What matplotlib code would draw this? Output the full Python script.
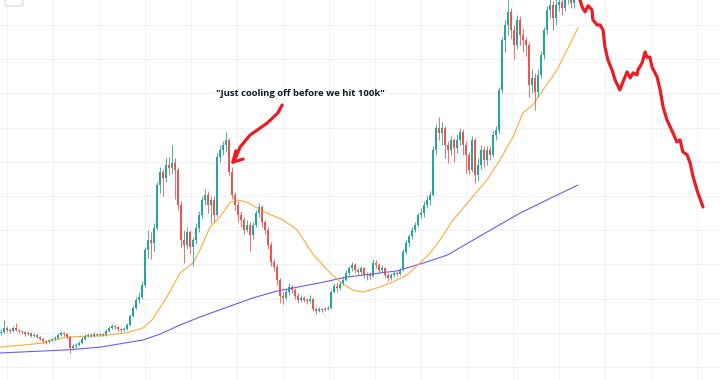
import matplotlib
matplotlib.use("Agg")
import matplotlib.pyplot as plt
import numpy as np
from matplotlib.patches import FancyBboxPatch

# weekly candles, prices in thousands of USD
closes = [
    10.2, 11.4, 10.8, 10.5, 11.4, 10.8, 10.5, 10.2, 9.6, 9.9,
    9.1, 9.4, 8.8, 8.2, 7.6, 7.3, 7.9, 8.2, 8.5, 9.4,
    9.9, 9.6, 8.8, 5.6, 6.1, 6.4, 7.0, 8.2, 9.1, 9.4,
    9.1, 9.6, 9.4, 9.6, 9.4, 10.5, 11.4, 12.0, 11.7, 11.1,
    10.8, 11.1, 12.3, 14.9, 17.3, 19.6, 20.5, 24.0, 34.2, 37.1,
    36.3, 40.6, 53.2, 57.0, 55.3, 59.1, 58.2, 59.6, 57.6, 47.4,
    37.1, 35.7, 39.5, 35.1, 37.1, 40.6, 44.4, 48.8, 50.3, 47.4,
    48.8, 44.4, 61.4, 63.5, 64.9, 66.4, 57.0, 50.3, 47.4, 44.4,
    43.0, 40.1, 41.5, 38.6, 41.5, 45.0, 46.8, 42.4, 40.1, 35.7,
    30.7, 29.2, 25.4, 20.8, 20.2, 21.9, 23.4, 22.5, 20.8, 19.6,
    20.2, 19.6, 19.3, 19.9, 17.0, 16.4, 17.0, 16.7, 17.0, 17.3,
    21.9, 23.7, 23.1, 24.3, 25.4, 27.5, 28.9, 29.8, 28.4, 27.8,
    28.9, 26.9, 27.2, 26.6, 30.4, 29.8, 28.4, 28.9, 26.9, 26.0,
    26.9, 27.5, 27.2, 28.4, 33.6, 36.3, 38.3, 40.1, 41.5, 44.4,
    45.0, 47.4, 48.8, 50.3, 63.5, 69.9, 68.4, 69.9, 64.9, 63.5,
    66.4, 64.0, 66.4, 68.7, 64.9, 62.0, 57.6, 66.4, 56.1, 59.1,
    63.5, 60.5, 63.5, 62.0, 67.8, 69.3, 81.0, 95.6, 100.0, 103.8,
    98.5, 94.2, 101.5, 97.1, 95.6, 94.2, 82.5, 84.5, 80.4, 85.4,
    91.2, 98.5, 104.4, 105.8, 102.0, 105.8, 106.7, 105.0, 107.5, 109.0,
    106.4, 108.0,
]
highs = [
    11.0, 13.7, 12.0, 11.3, 12.0, 12.9, 11.2, 10.9, 10.5, 10.4,
    10.2, 9.9, 9.7, 9.1, 8.5, 7.9, 8.3, 8.6, 9.0, 9.9,
    10.5, 10.2, 9.9, 9.0, 6.8, 7.1, 7.6, 8.7, 9.7, 10.0,
    9.9, 10.1, 10.0, 10.0, 9.9, 11.0, 12.0, 12.5, 12.4, 12.0,
    11.4, 11.6, 13.0, 15.5, 18.2, 20.4, 21.8, 25.0, 35.0, 40.0,
    39.5, 42.0, 54.0, 58.5, 58.0, 61.0, 61.5, 64.9, 61.0, 58.5,
    48.5, 40.0, 41.0, 40.0, 38.0, 42.0, 45.5, 50.0, 52.0, 51.5,
    50.0, 50.0, 62.5, 65.0, 66.0, 68.7, 67.0, 58.5, 51.2, 48.5,
    45.5, 44.0, 43.0, 42.5, 42.5, 46.0, 48.0, 47.5, 43.0, 41.0,
    36.5, 31.5, 30.0, 26.0, 21.8, 22.8, 24.5, 24.0, 23.0, 21.5,
    21.0, 20.8, 20.3, 21.0, 20.3, 17.5, 17.4, 17.3, 17.5, 17.8,
    22.6, 24.5, 24.8, 25.0, 26.5, 28.5, 29.5, 30.8, 30.5, 29.0,
    29.5, 29.3, 27.9, 27.8, 31.5, 31.2, 30.3, 29.8, 29.3, 27.5,
    27.5, 28.2, 28.0, 29.0, 34.5, 37.0, 39.0, 41.0, 42.5, 45.0,
    46.5, 48.5, 50.0, 51.5, 64.5, 71.0, 73.1, 71.5, 70.5, 66.0,
    67.5, 67.0, 68.0, 70.0, 69.5, 66.0, 63.0, 67.5, 67.0, 61.0,
    65.0, 64.5, 64.5, 64.5, 69.0, 70.5, 82.0, 96.5, 101.5, 108.0,
    105.0, 100.0, 103.0, 102.5, 99.0, 96.5, 95.0, 87.0, 86.0, 87.0,
    92.5, 99.5, 105.5, 108.0, 107.0, 108.0, 110.0, 109.0, 110.0, 111.0,
    110.0, 110.0,
]
lows = [
    9.5, 10.0, 10.3, 10.0, 10.2, 10.4, 10.0, 9.7, 9.2, 9.3,
    8.7, 8.8, 8.4, 7.8, 7.1, 6.8, 7.0, 7.6, 7.9, 8.3,
    9.1, 9.2, 8.3, 4.1, 5.0, 5.7, 6.0, 6.7, 7.9, 8.8,
    8.7, 8.9, 9.0, 9.1, 9.0, 9.2, 10.2, 11.1, 11.2, 10.6,
    10.3, 10.5, 10.9, 12.0, 14.5, 17.0, 18.8, 20.0, 23.5, 32.0,
    31.5, 34.0, 40.0, 51.0, 50.0, 54.0, 56.0, 56.5, 49.0, 46.0,
    35.0, 30.4, 34.5, 33.0, 29.5, 36.0, 39.5, 43.5, 47.5, 45.0,
    42.0, 42.5, 44.0, 60.0, 62.0, 63.0, 56.0, 49.0, 46.0, 42.5,
    41.0, 39.0, 39.5, 34.0, 37.5, 41.0, 44.0, 41.0, 39.0, 34.5,
    29.5, 28.0, 24.0, 18.7, 18.5, 19.8, 21.0, 21.5, 20.0, 18.8,
    19.0, 18.9, 18.5, 18.7, 16.3, 15.5, 16.0, 16.2, 16.4, 16.6,
    17.0, 21.5, 22.0, 22.5, 24.0, 25.0, 27.0, 28.0, 27.5, 26.8,
    27.2, 26.0, 25.5, 25.8, 26.3, 29.0, 27.5, 27.8, 26.0, 25.0,
    25.5, 26.3, 26.5, 26.8, 28.0, 33.0, 35.5, 37.5, 39.5, 41.0,
    43.5, 44.0, 46.5, 47.5, 50.0, 62.0, 66.5, 65.0, 61.0, 59.5,
    62.0, 60.0, 62.5, 65.0, 62.0, 56.7, 56.5, 57.0, 53.8, 54.5,
    58.0, 58.5, 59.0, 60.5, 61.5, 66.5, 68.5, 80.0, 92.0, 97.0,
    96.0, 90.0, 93.0, 94.0, 92.0, 91.0, 79.0, 80.0, 75.1, 79.0,
    84.5, 90.0, 97.0, 102.0, 98.5, 100.0, 104.0, 103.0, 104.0, 106.0,
    105.0, 105.0,
]
first_open = 10.0

# moving averages (candle index, price)
ma50_x = [-0.3, 14, 22, 33, 42, 47.3, 50.3, 55.3, 59.7, 64, 66.3, 69.7, 73, 76.3,
          79, 82, 85.3, 88.7, 94, 98.7, 104, 108.7, 113, 117.3, 120.7, 126.3,
          130.7, 135.3, 139.7, 143, 146.3, 150.7, 156.3, 162, 166.3, 170.7,
          174, 177.3, 180.7, 185.3, 188.7, 192.3]
ma50_y = [5.8, 7.0, 8.8, 9.1, 10.0, 11.4, 13.7, 20.5, 27.5, 30.4, 34.2, 40.9, 43.9,
          48.0, 48.8, 48.2, 46.5, 45.0, 43.0, 40.1, 33.0, 28.4, 24.9, 22.5, 21.9,
          23.4, 24.9, 26.9, 30.4, 33.3, 37.1, 43.0, 48.8, 54.7, 60.5, 67.3, 74.3,
          76.6, 81.0, 86.8, 92.7, 99.1]
ma200_x = [-0.3, 22, 33, 47.3, 53, 59.7, 66.3, 77.3, 84, 92, 106.3, 115.3, 132,
           139.7, 148.7, 159.7, 173, 184, 192.3]
ma200_y = [4.1, 5.0, 5.8, 7.9, 9.6, 12.3, 14.6, 18.1, 20.2, 22.2, 24.6, 26.3, 28.1,
           30.1, 32.7, 38.3, 45.0, 49.7, 53.2]

# hand drawn "prediction"
pred_x = [193, 193.7, 194.7, 195.7, 197, 197.3, 198.7, 199.7, 200.7, 201.3, 202.3,
          203.7, 204.7, 206.3, 207.3, 208.7, 209.7, 210.7, 212, 212.3, 213.7,
          214.7, 215.3, 216.3, 217, 218.7, 219.7, 220.7, 222, 224, 225.3, 226.3,
          227.3, 228.7, 229.7, 230.7, 232.3, 234]
pred_y = [107.3, 105.3, 103.8, 105.6, 104.4, 101.5, 100.0, 100.0, 98.5, 93.6, 89.8,
          86.8, 83.9, 81.0, 83.3, 86.3, 84.5, 86.0, 85.4, 86.8, 88.9, 92.1, 90.6,
          90.6, 87.7, 84.8, 81.0, 76.0, 72.2, 68.4, 65.8, 66.4, 62.9, 62.0, 59.6,
          55.6, 50.9, 46.8]
arrow_x = [93.7, 92.3, 88.7, 83, 79.7, 78.3, 77.3]
arrow_y = [76.6, 74.3, 71.3, 67.8, 64.3, 61.4, 59.9]
head_x = [80.7, 77.3, 78.3]
head_y = [60.8, 59.9, 63.2]

label = '"Just cooling off before we hit 100k"'

c = np.array(closes)
o = np.array([first_open] + closes[:-1])
h = np.array(highs)
l = np.array(lows)
idx = np.arange(len(c))
col = np.where(c >= o, '#26a69a', '#ef5350')

fig = plt.figure(figsize=(7.2, 3.8), dpi=100)
ax = fig.add_axes([0, 0, 1, 1])
ax.set_xlim(-1 / 3, 719 / 3)
ax.set_ylim(-3.8, 107.3)

ax.set_xticks(np.arange(2, 240, 46 / 3))
ax.set_yticks(np.arange(0, 101, 10))
ax.grid(True, color='#f0f2f8', lw=0.8)
ax.tick_params(length=0, labelbottom=False, labelleft=False)
for s in ax.spines.values():
    s.set_visible(False)
ax.set_axisbelow(True)

ax.plot(ma200_x, ma200_y, color='#6a5cf6', lw=0.8)
ax.plot(ma50_x, ma50_y, color='#ffa938', lw=0.8)

ax.vlines(idx, l, h, colors=col, lw=0.7, alpha=0.85)
ax.bar(idx, np.maximum(np.abs(c - o), 0.3), bottom=np.minimum(o, c),
       width=0.75, color=col, lw=0)

red = '#ec1c24'
ax.plot(pred_x, pred_y, color=red, lw=2.3, solid_capstyle='round',
        solid_joinstyle='round')
ax.plot(arrow_x, arrow_y, color=red, lw=2.3, solid_capstyle='round')
ax.plot(head_x, head_y, color=red, lw=2.3, solid_capstyle='round',
        solid_joinstyle='round')

ax.text(99.7, 80.1, label, ha='center', va='center', fontsize=6.8,
        fontweight='bold', color='#131722', family=['Open Sans', 'DejaVu Sans'])

# little toolbar button peeking in at the top left
fig.patches.append(FancyBboxPatch((5 / 720, 374 / 380), 18 / 720, 12 / 380,
                                  boxstyle='round,pad=0,rounding_size=0.004',
                                  transform=fig.transFigure, fc='white',
                                  ec='#d6d6d6', lw=0.8))

fig.savefig('out.png', dpi=100)
